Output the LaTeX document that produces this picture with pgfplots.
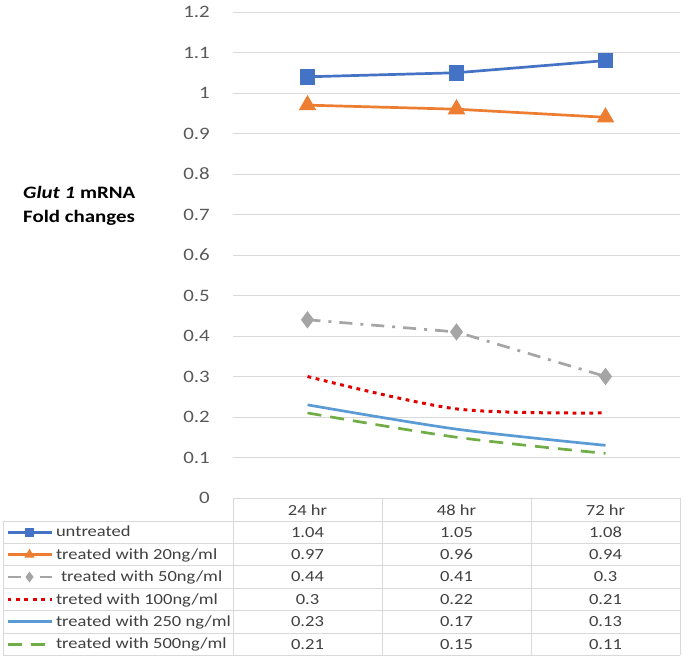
\documentclass[border=0pt]{standalone}
\usepackage{pgfplots}
\usepackage{pgfplotstable}
\pgfplotsset{compat=1.18}
\usepackage{fontspec}
\setmainfont[FakeStretch=1.2]{Carlito}

\definecolor{cBlue}{HTML}{4472C4}
\definecolor{cOrange}{HTML}{ED7D31}
\definecolor{cGray}{HTML}{A5A5A5}
\definecolor{cRed}{HTML}{E00000}
\definecolor{cLight}{HTML}{5B9BD5}
\definecolor{cGreen}{HTML}{70AD47}
\definecolor{gridgray}{HTML}{D9D9D9}
\definecolor{txtgray}{HTML}{595959}
\definecolor{tabtxt}{HTML}{404040}

% fold changes, rows = 24 hr, 48 hr, 72 hr
\pgfplotstableread{
t untreated c20  c50  c100 c250 c500
0 1.04      0.97 0.44 0.3  0.23 0.21
1 1.05      0.96 0.41 0.22 0.17 0.15
2 1.08      0.94 0.3  0.21 0.13 0.11
}\glut

\begin{document}
\begin{tikzpicture}
\path[use as bounding box] (0,0) rectangle (685bp,658bp);

\begin{axis}[
  at={(233bp,160bp)}, anchor=south west,
  scale only axis, width=447bp, height=486bp,
  xmin=-0.5, xmax=2.5, ymin=0, ymax=1.2,
  xtick=\empty,
  ytick={0,0.1,0.2,0.3,0.4,0.5,0.6,0.7,0.8,0.9,1,1.1,1.2},
  axis line style={draw=none},
  major tick length=0pt,
  ymajorgrids, grid style={gridgray, line width=0.9bp},
  /pgf/number format/assume math mode=true,
  yticklabel style={/pgf/number format/fixed, /pgf/number format/precision=1,
    font=\fontsize{17.5}{20}\selectfont, text=txtgray,
    anchor=east, inner sep=0pt, xshift=-23bp},
  clip=false,
  legend cell align=left,
  legend style={at={(-0.5078,-0.0473)}, anchor=north west,
    draw=none, fill=none, inner sep=0pt, outer sep=0pt,
    row sep=0pt, column sep=3bp,
    font=\fontsize{15.5}{18}\selectfont, text=tabtxt,
    nodes={inner sep=0pt, minimum height=22.4bp}},
  legend image code/.code={
    \draw[mark repeat=2, mark phase=2, #1]
      plot coordinates {(0bp,0bp) (22bp,0bp) (44bp,0bp)};},
  legend image post style={mark size=3.2bp},
]
\addplot[cBlue, line width=2.7bp, mark=square*, mark size=6.5bp]
  table[x=t, y=untreated] {\glut};
\addlegendentry{untreated}
\addplot[cOrange, line width=2.7bp, mark=triangle*, mark size=7.5bp]
  table[x=t, y=c20] {\glut};
\addlegendentry{treated with 20ng/ml}
\addplot[cGray, line width=2.7bp, dash pattern=on 13bp off 8bp on 3bp off 8bp,
  mark=diamond*, mark size=6.5bp, mark options={solid}]
  table[x=t, y=c50] {\glut};
\addlegendentry{\hspace{5bp}treated with 50ng/ml}
\addplot[cRed, line width=3bp, smooth, dash pattern=on 3.8bp off 4.6bp]
  table[x=t, y=c100] {\glut};
\addlegendentry{treted with 100ng/ml}
\addplot[cLight, line width=2.7bp, smooth]
  table[x=t, y=c250] {\glut};
\addlegendentry{treated with 250 ng/ml}
\addplot[cGreen, line width=2.7bp, smooth, dash pattern=on 14bp off 9bp]
  table[x=t, y=c500] {\glut};
\addlegendentry{treated with 500ng/ml}
\end{axis}

% y axis title
\node[anchor=base west, inner sep=0pt, font=\fontsize{17.5}{21}\selectfont\bfseries]
  at (23bp,459bp) {\textit{Glut 1} mRNA};
\node[anchor=base west, inner sep=0pt, font=\fontsize{17.5}{21}\selectfont\bfseries]
  at (23bp,435bp) {Fold changes};

% data table
\begin{scope}[gridgray, line width=0.9bp]
  \draw (233bp,160bp) -- (680bp,160bp);
  \foreach \yy in {137,114.6,92.2,69.8,47.4,25,2.6}
    \draw (3bp,\yy bp) -- (680bp,\yy bp);
  \draw (3bp,137bp) -- (3bp,2.6bp);
  \foreach \xx in {233,382,531,680}
    \draw (\xx bp,160bp) -- (\xx bp,2.6bp);
\end{scope}
\begin{scope}[every node/.style={font=\fontsize{15.5}{18}\selectfont, text=tabtxt, inner sep=0pt}]
  \node at (307.5bp,147.5bp) {24 hr};
  \node at (456.5bp,147.5bp) {48 hr};
  \node at (605.5bp,147.5bp) {72 hr};
  \foreach \col [count=\r from 0] in {untreated,c20,c50,c100,c250,c500} {
    \foreach \c in {0,1,2} {
      \pgfplotstablegetelem{\c}{\col}\of\glut
      \node at (307.5bp+\c*149bp, 125.8bp-\r*22.4bp) {\pgfplotsretval};
    }
  }
\end{scope}
\end{tikzpicture}
\end{document}
